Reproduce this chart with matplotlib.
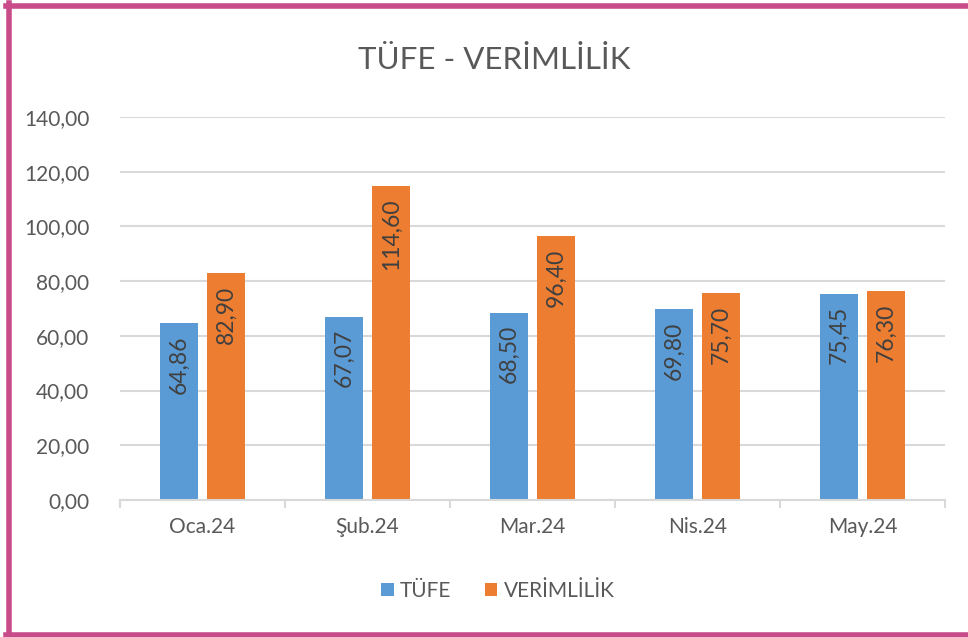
import numpy as np
import matplotlib
matplotlib.use("Agg")
import matplotlib.pyplot as plt

# data
months = ["Oca.24", "Şub.24", "Mar.24", "Nis.24", "May.24"]
tufe = [64.86, 67.07, 68.50, 69.80, 75.45]
verimlilik = [82.90, 114.60, 96.40, 75.70, 76.30]
series_names = ["TÜFE", "VERİMLİLİK"]

blue = "#5B9BD5"
orange = "#ED7D31"
text_gray = "#595959"
grid_gray = "#D9D9D9"
frame = "#C84C8A"

plt.rcParams['font.family'] = ['Lato', 'DejaVu Sans']

fig = plt.figure(figsize=(9.68, 6.37), dpi=100)
ax = fig.add_axes([120 / 968, 1 - 500 / 637, 825 / 968, (500 - 117) / 637])

x = np.arange(len(months))
w = 0.225
gap = 0.03
b1 = ax.bar(x - w / 2 - gap, tufe, w, color=blue, label=series_names[0], zorder=3)
b2 = ax.bar(x + w / 2 + gap, verimlilik, w, color=orange, label=series_names[1], zorder=3)

def fmt(v):
    return f"{v:.2f}".replace(".", ",")

# value labels inside the top of each bar
for bars, vals in [(b1, tufe), (b2, verimlilik)]:
    for rect, v in zip(bars, vals):
        ax.annotate(fmt(v), (rect.get_x() + rect.get_width() / 2, v),
                    xytext=(0, -9), textcoords="offset points",
                    rotation=90, ha="center", va="top",
                    fontsize=16.5, color="#404040", zorder=4)

ax.set_xlim(-0.5, len(months) - 0.5)
ax.set_ylim(0, 140)
ax.set_yticks(np.arange(0, 141, 20))
ax.set_yticklabels([fmt(v) for v in np.arange(0, 141, 20)])
ax.set_xticks(x)
ax.set_xticklabels(months)
ax.set_xticks(np.arange(-0.5, len(months), 1), minor=True)
ax.tick_params(axis="x", which="major", length=0, pad=12, labelsize=15, labelcolor=text_gray)
ax.tick_params(axis="x", which="minor", length=6, color=grid_gray, width=1.5)
ax.tick_params(axis="y", length=0, pad=22, labelsize=15, labelcolor=text_gray)

ax.grid(axis="y", color=grid_gray, linewidth=1.5, zorder=0)
for s in ["top", "right", "left"]:
    ax.spines[s].set_visible(False)
ax.spines["bottom"].set_color(grid_gray)
ax.spines["bottom"].set_linewidth(1.5)
ax.spines["bottom"].set_zorder(3)

fig.text(0.511, 1 - 60 / 637, "TÜFE - VERİMLİLİK", ha="center", va="center",
         fontsize=22.5, color=text_gray)

fig.legend(loc="center", bbox_to_anchor=(498 / 968, 1 - 591 / 637), ncol=2,
           frameon=False, fontsize=15, labelcolor=text_gray,
           handlelength=0.6, handleheight=0.6, handletextpad=0.3, columnspacing=1.6)

# magenta frame (left, top, bottom)
fig.add_artist(plt.Line2D([8.5 / 968, 8.5 / 968], [3 / 637, 634 / 637], transform=fig.transFigure,
                          color=frame, linewidth=4))
fig.add_artist(plt.Line2D([6 / 968, 1], [1 - 5.5 / 637, 1 - 5.5 / 637], transform=fig.transFigure,
                          color=frame, linewidth=4))
fig.add_artist(plt.Line2D([6 / 968, 1], [1 - 634.5 / 637, 1 - 634.5 / 637], transform=fig.transFigure,
                          color=frame, linewidth=4))

fig.savefig("out.png", dpi=100)
